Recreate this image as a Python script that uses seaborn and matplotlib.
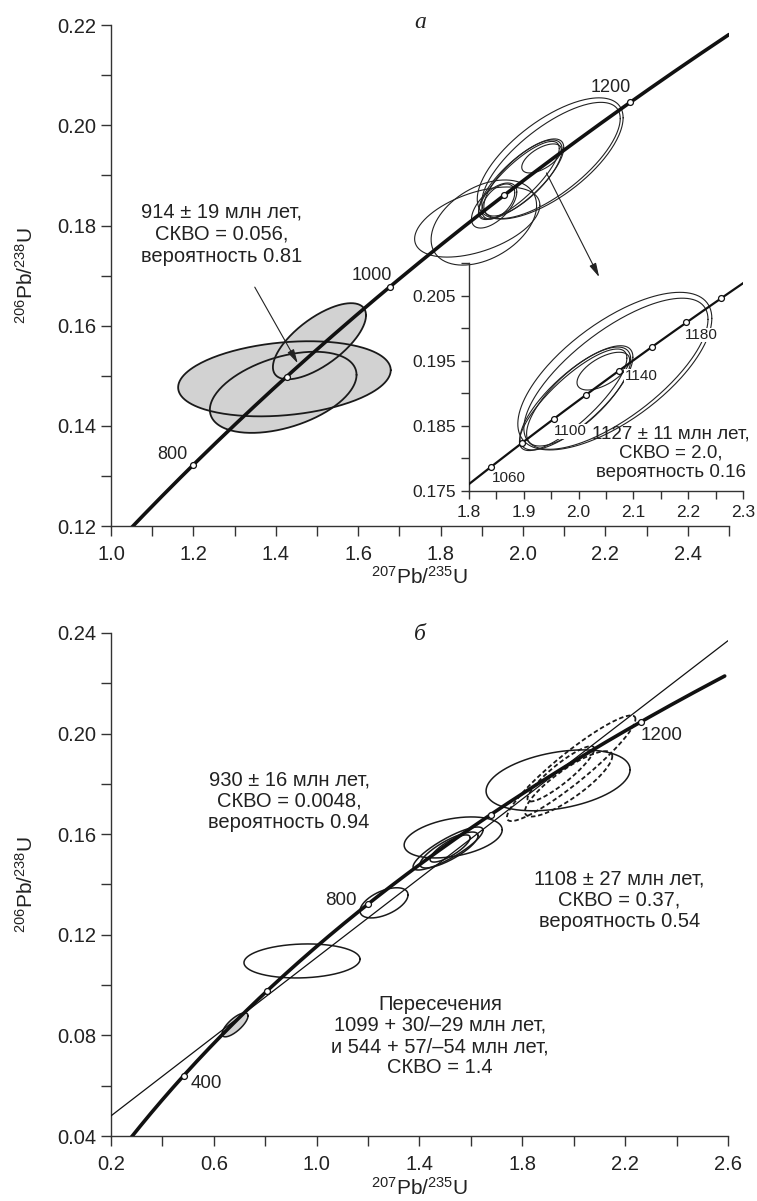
import numpy as np
import pandas as pd
import matplotlib
matplotlib.use("Agg")
import matplotlib.pyplot as plt
import seaborn as sns
from matplotlib.ticker import MultipleLocator, FixedLocator, FormatStrFormatter

sns.set_theme(style="ticks")
plt.rcParams['font.family'] = ['Liberation Sans', 'DejaVu Sans']
plt.rcParams['mathtext.fontset'] = 'custom'
plt.rcParams['mathtext.rm'] = 'Liberation Sans'
plt.rcParams['mathtext.it'] = 'Liberation Sans:italic'

# decay constants (1/yr)
L238 = 1.55125e-10
L235 = 9.8485e-10

# ---- panel а: error ellipses (centre, half-widths, correlation) ----
gray_cx = [1.421, 1.418, 1.506]
gray_sx = [0.258, 0.178, 0.113]
gray_cy = [0.1494, 0.1467, 0.1569]
gray_sy = [0.0075, 0.0081, 0.0076]
gray_rho = [0.23, 0.43, 0.68]

other_cx = [1.889, 1.905, 1.940, 1.930]
other_sx = [0.152, 0.128, 0.040, 0.055]
other_cy = [0.1807, 0.1806, 0.1848, 0.1840]
other_sy = [0.0070, 0.0085, 0.0035, 0.0045]
other_rho = [0.48, 0.40, 0.50, 0.60]

grp_cx = [2.066, 2.068, 1.996, 1.990, 2.000, 2.045]
grp_sx = [0.177, 0.168, 0.103, 0.098, 0.095, 0.048]
grp_cy = [0.1934, 0.1930, 0.1893, 0.1890, 0.1895, 0.1934]
grp_sy = [0.0121, 0.0116, 0.0080, 0.0078, 0.0076, 0.0029]
grp_rho = [0.67, 0.72, 0.78, 0.82, 0.75, 0.60]

top_ages = [800, 900, 1000, 1100, 1200]
top_labels = {800: (-15, 8), 1000: (-13, 8), 1200: (-14, 11)}
inset_ages = [1060, 1080, 1100, 1120, 1140, 1160, 1180, 1200]
inset_labels = {1060: (13, -8), 1100: (12, -9), 1140: (16, -4), 1180: (11, -9)}

# ---- panel б ----
b_gray_cx = [0.6825]
b_gray_sx = [0.0506]
b_gray_cy = [0.0842]
b_gray_sy = [0.00477]
b_gray_rho = [0.75]

b_cx = [0.943, 1.262, 1.531, 1.511, 1.515, 1.519, 1.939]
b_sx = [0.2257, 0.0934, 0.1907, 0.136, 0.113, 0.078, 0.280]
b_cy = [0.1096, 0.1327, 0.1587, 0.1543, 0.1537, 0.1543, 0.1814]
b_sy = [0.00676, 0.0060, 0.00815, 0.00855, 0.00715, 0.0054, 0.0121]
b_rho = [0.10, 0.53, 0.37, 0.85, 0.80, 0.80, 0.35]

d_cx = [1.990, 1.980, 1.950]
d_sx = [0.250, 0.170, 0.130]
d_cy = [0.1862, 0.1800, 0.1840]
d_sy = [0.0210, 0.0130, 0.0110]
d_rho = [0.93, 0.85, 0.90]

bottom_ages = [400, 600, 800, 1000, 1200]
bottom_labels = {400: (16, -6), 800: (-19, 3), 1200: (15, -10)}

# axis ticks of panel б
b_xticks = [0.2, 0.6, 1.0, 1.4, 1.8, 2.2, 2.6]
b_yticks = [0.04, 0.08, 0.12, 0.16, 0.20, 0.24]

# discordia intercept ages (Ma)
upper_int = 1099
lower_int = 544


def concordia(t_ma):
    t = np.asarray(t_ma, dtype=float) * 1e6
    return np.expm1(L235 * t), np.expm1(L238 * t)


def ellipse_xy(cx, sx, cy, sy, rho, n=240):
    th = np.linspace(0, 2 * np.pi, n)
    x = cx + sx * np.cos(th)
    y = cy + sy * (rho * np.cos(th) + np.sqrt(1 - rho ** 2) * np.sin(th))
    return x, y


def draw_ellipses(ax, cxs, sxs, cys, sys_, rhos, fill=None, lw=0.9, ls='-', color='#222222'):
    shapes = [ellipse_xy(*p) for p in zip(cxs, sxs, cys, sys_, rhos)]
    if fill is not None:
        for x, y in shapes:
            ax.fill(x, y, color=fill, lw=0, zorder=1)
    for x, y in shapes:
        ax.plot(x, y, color=color, lw=lw, ls=ls, zorder=2)


def draw_concordia(ax, t0, t1, lw, ages, labels, fs):
    t = np.linspace(t0, t1, 400)
    x, y = concordia(t)
    sns.lineplot(data=pd.DataFrame({'x': x, 'y': y}), x='x', y='y', sort=False,
                 estimator=None, color='#111111', lw=lw, ax=ax, zorder=4)
    mx, my = concordia(ages)
    sns.scatterplot(data=pd.DataFrame({'x': mx, 'y': my}), x='x', y='y', ax=ax,
                    s=18, color='white', edgecolor='#111111', linewidth=0.9, zorder=5)
    for a, (dx, dy) in labels.items():
        px, py = concordia([a])
        ax.annotate(str(a), (px[0], py[0]), xytext=(dx, dy), textcoords='offset points',
                    ha='center', va='center', fontsize=fs, color='#222222', zorder=3,
                    bbox=dict(facecolor='white', edgecolor='none', pad=0.3))


def style_axes(ax, fs, major_x, minor_x, major_y, minor_y, tl=7, xpad=3.5):
    sns.despine(ax=ax)
    for s in ('left', 'bottom'):
        ax.spines[s].set_color('#333333')
        ax.spines[s].set_linewidth(1.0)
    ax.xaxis.set_major_locator(MultipleLocator(major_x))
    ax.xaxis.set_minor_locator(MultipleLocator(minor_x))
    ax.yaxis.set_major_locator(MultipleLocator(major_y))
    ax.yaxis.set_minor_locator(MultipleLocator(minor_y))
    ax.tick_params(which='both', direction='out', length=tl, width=1.0, color='#333333',
                   labelsize=fs, labelcolor='#222222')
    ax.tick_params(axis='x', which='both', pad=xpad)
    ax.set_xlabel('')
    ax.set_ylabel('')
    ax.grid(False)


fig = plt.figure(figsize=(7.57, 12.01), dpi=100)

# ================= panel а =================
ax1 = fig.add_axes([0.1466, 0.562, 0.8164, 0.417])
ax1.set_facecolor('none')
draw_ellipses(ax1, gray_cx, gray_sx, gray_cy, gray_sy, gray_rho, fill='#d2d2d2', lw=1.3, color='#1a1a1a')
draw_ellipses(ax1, other_cx, other_sx, other_cy, other_sy, other_rho, lw=0.8)
draw_ellipses(ax1, grp_cx, grp_sx, grp_cy, grp_sy, grp_rho, lw=0.8)
draw_concordia(ax1, 700, 1272, 2.6, top_ages, top_labels, 13)
ax1.set_xlim(1.0, 2.5)
ax1.set_ylim(0.12, 0.22)
style_axes(ax1, 14.5, 0.2, 0.1, 0.02, 0.01, xpad=7)
ax1.xaxis.set_major_formatter(FormatStrFormatter('%.1f'))
ax1.yaxis.set_major_formatter(FormatStrFormatter('%.2f'))
ax1.set_xlabel('$^{207}$Pb/$^{235}$U', fontsize=15, color='#222222')
ax1.set_ylabel('$^{206}$Pb/$^{238}$U', fontsize=15, color='#222222')
ax1.xaxis.set_label_coords(0.5, -0.08)
ax1.yaxis.set_label_coords(-0.12, 0.5)
ax1.text(0.5, 1.006, 'а', transform=ax1.transAxes, ha='center', va='center',
         fontsize=17, family='Liberation Serif', style='italic', color='#222222')

ax1.text(1.269, 0.1783, '914 ± 19 млн лет,\nСКВО = 0.056,\nвероятность 0.81',
         ha='center', va='center', fontsize=14.5, color='#222222', linespacing=1.2)
arrow = dict(arrowstyle='-|>,head_length=0.7,head_width=0.18', color='#222222', lw=0.8,
             shrinkA=0, shrinkB=0)
ax1.annotate('', xy=(1.4533, 0.1525), xytext=(1.349, 0.1677), arrowprops=arrow)
ax1.annotate('', xy=(2.185, 0.1697), xytext=(2.057, 0.1905), arrowprops=arrow)

# inset
axi = fig.add_axes([0.6196, 0.5912, 0.362, 0.1898])
axi.set_facecolor('none')
draw_ellipses(axi, grp_cx, grp_sx, grp_cy, grp_sy, grp_rho, lw=0.8)
draw_concordia(axi, 1040, 1215, 1.6, inset_ages, inset_labels, 11)
axi.set_xlim(1.8, 2.3)
axi.set_ylim(0.175, 0.21)
style_axes(axi, 12.5, 0.1, 0.05, 0.01, 0.005, tl=6, xpad=4)
axi.yaxis.set_major_locator(FixedLocator([0.175, 0.185, 0.195, 0.205]))
axi.xaxis.set_major_formatter(FormatStrFormatter('%.1f'))
axi.yaxis.set_major_formatter(FormatStrFormatter('%.3f'))
axi.text(2.1686, 0.1808, '1127 ± 11 млн лет,\nСКВО = 2.0,\nвероятность 0.16',
         ha='center', va='center', fontsize=13.5, color='#222222', linespacing=1.15)

# ================= panel б =================
ax2 = fig.add_axes([0.1466, 0.0541, 0.8151, 0.4189])
ax2.set_facecolor('none')
draw_ellipses(ax2, b_gray_cx, b_gray_sx, b_gray_cy, b_gray_sy, b_gray_rho, fill='#d2d2d2', lw=1.1, color='#1a1a1a')
draw_ellipses(ax2, b_cx, b_sx, b_cy, b_sy, b_rho, lw=1.1, color='#1a1a1a')
draw_ellipses(ax2, d_cx, d_sx, d_cy, d_sy, d_rho, lw=1.3, ls=(0, (2.5, 1.5)), color='#1a1a1a')

# discordia through the two intercepts
ix, iy = concordia([lower_int, upper_int])
slope = (iy[1] - iy[0]) / (ix[1] - ix[0])
dx_line = np.array([0.2, 2.6])
sns.lineplot(x=dx_line, y=iy[0] + slope * (dx_line - ix[0]), ax=ax2, color='#111111',
             lw=0.9, zorder=3)

draw_concordia(ax2, 245, 1297, 2.6, bottom_ages, bottom_labels, 13.5)
ax2.set_xlim(0.2, 2.6)
ax2.set_ylim(0.04, 0.24)
style_axes(ax2, 14.5, 0.4, 0.2, 0.04, 0.02, xpad=7)
ax2.xaxis.set_major_locator(FixedLocator(b_xticks))
ax2.yaxis.set_major_locator(FixedLocator(b_yticks))
ax2.xaxis.set_major_formatter(FormatStrFormatter('%.1f'))
ax2.yaxis.set_major_formatter(FormatStrFormatter('%.2f'))
ax2.set_xlabel('$^{207}$Pb/$^{235}$U', fontsize=15, color='#222222')
ax2.set_ylabel('$^{206}$Pb/$^{238}$U', fontsize=15, color='#222222')
ax2.xaxis.set_label_coords(0.5, -0.082)
ax2.yaxis.set_label_coords(-0.12, 0.5)
ax2.text(0.5, 0.996, 'б', transform=ax2.transAxes, ha='center', va='center',
         fontsize=17, family='Liberation Serif', style='italic', color='#222222')

ax2.text(0.8926, 0.1732, '930 ± 16 млн лет,\nСКВО = 0.0048,\nвероятность 0.94',
         ha='center', va='center', fontsize=14.5, color='#222222', linespacing=1.15)
ax2.text(2.1767, 0.1339, '1108 ± 27 млн лет,\nСКВО = 0.37,\nвероятность 0.54',
         ha='center', va='center', fontsize=14.5, color='#222222', linespacing=1.15)
ax2.text(1.48, 0.0798, 'Пересечения\n1099 + 30/–29 млн лет,\nи 544 + 57/–54 млн лет,\nСКВО = 1.4',
         ha='center', va='center', fontsize=14.5, color='#222222', linespacing=1.15)

fig.savefig('out.png', dpi=100, facecolor='white')
